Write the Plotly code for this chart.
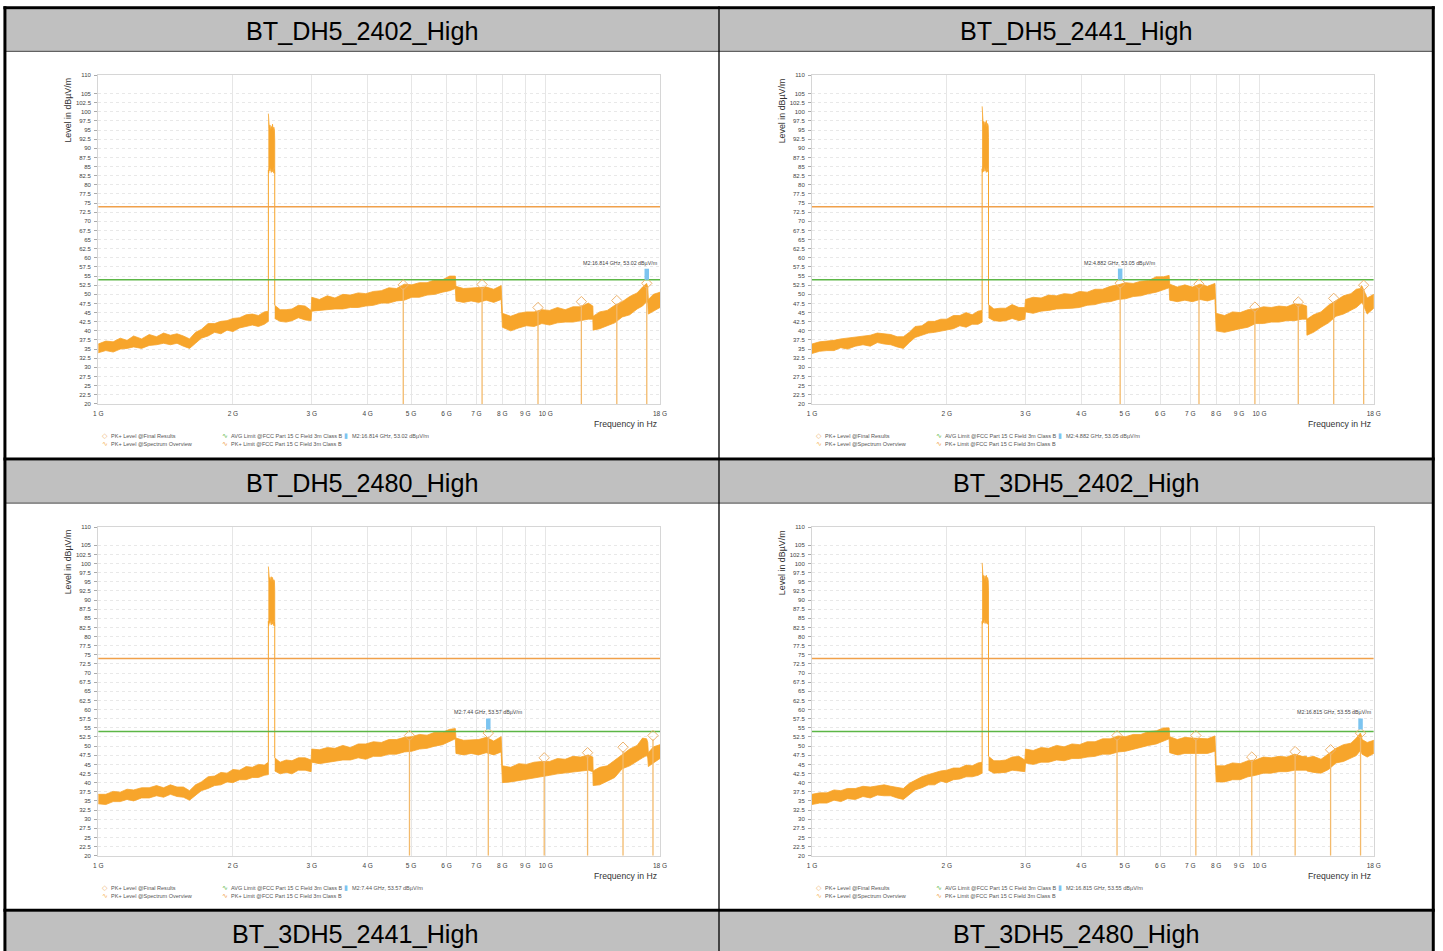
import math
import plotly.graph_objects as go

W, H = 1443, 951

# ---------------- data ----------------
TITLES = ["BT_DH5_2402_High", "BT_DH5_2441_High", "BT_DH5_2480_High",
          "BT_3DH5_2402_High", "BT_3DH5_2441_High", "BT_3DH5_2480_High"]

FREQ_GHZ = [1.00, 1.04, 1.08, 1.12, 1.16, 1.20, 1.25, 1.30, 1.35, 1.40,
            1.45, 1.50, 1.55, 1.60, 1.65, 1.70, 1.76, 1.82, 1.88, 1.94,
            2.00, 2.07, 2.14, 2.21, 2.28, 2.35, 2.40, 2.48, 2.55, 2.63,
            2.71, 2.80, 2.90, 2.99, 3.00, 3.12, 3.25, 3.38, 3.52, 3.66,
            3.81, 3.96, 4.12, 4.29, 4.46, 4.64, 4.83, 5.02, 5.22, 5.43,
            5.65, 5.88, 6.10, 6.28, 6.30, 6.55, 6.81, 7.08, 7.36, 7.65,
            7.95, 8.00, 8.35, 8.70, 9.05, 9.42, 9.80, 10.20, 10.62, 11.05,
            11.50, 11.97, 12.45, 12.74, 12.76, 13.20, 13.72, 14.26, 14.82, 15.40,
            16.00, 16.45, 16.80, 16.90, 16.95, 17.40, 18.00]

P1_LO = [34.0, 34.6, 34.2, 35.0, 35.2, 35.6, 35.2, 36.0, 36.2, 36.6,
         36.2, 36.6, 35.8, 35.2, 36.6, 38.0, 38.6, 39.6, 39.2, 40.2,
         39.8, 40.8, 41.2, 41.6, 41.2, 41.8, 42.6, 43.4, 42.6, 42.4,
         42.8, 43.6, 43.0, 42.8, 45.4, 45.4, 45.8, 46.0, 46.0, 46.4,
         46.4, 46.8, 47.0, 47.6, 47.6, 48.2, 48.4, 49.2, 49.2, 49.8,
         50.0, 50.6, 51.0, 51.6, 48.2, 47.8, 48.2, 47.8, 48.4, 47.8,
         48.6, 41.0, 40.0, 40.8, 41.4, 41.2, 42.0, 41.6, 42.2, 42.4,
         42.4, 42.8, 43.2, 43.2, 40.2, 40.6, 41.4, 42.2, 43.8, 44.4,
         46.0, 46.8, 48.0, 47.6, 44.6, 45.4, 46.4]
P1_HI = [36.4, 37.2, 37.0, 38.0, 37.4, 38.6, 37.8, 39.0, 38.4, 39.4,
         38.8, 39.2, 38.6, 37.8, 39.6, 40.4, 42.0, 42.0, 42.6, 42.8,
         43.4, 43.6, 44.4, 44.6, 44.2, 45.2, 45.4, 47.0, 45.8, 45.8,
         46.0, 47.0, 46.8, 45.6, 49.2, 48.6, 49.6, 49.0, 50.0, 49.8,
         50.4, 50.2, 50.8, 51.0, 51.8, 51.6, 52.8, 52.6, 53.2, 53.2,
         54.0, 54.0, 55.0, 55.0, 52.2, 51.6, 51.8, 51.8, 52.0, 51.4,
         52.4, 44.8, 44.0, 44.8, 45.2, 45.2, 45.8, 45.6, 46.4, 45.8,
         46.6, 46.6, 47.6, 46.8, 44.0, 45.2, 45.6, 47.0, 48.0, 49.4,
         50.4, 52.0, 53.0, 52.0, 48.6, 50.0, 50.6]

P2_LO = [33.8, 34.4, 34.6, 34.6, 35.4, 35.0, 35.8, 36.2, 35.8, 36.8,
         36.4, 36.2, 35.6, 35.2, 36.8, 38.2, 38.8, 39.4, 39.6, 40.0,
         40.2, 40.6, 41.4, 41.0, 41.8, 41.8, 42.4, 43.6, 42.8, 42.6,
         42.8, 43.4, 42.8, 43.2, 45.2, 44.8, 45.4, 45.6, 46.0, 46.2,
         46.2, 46.4, 47.0, 47.2, 47.8, 48.0, 48.6, 48.8, 49.4, 49.6,
         50.2, 50.6, 51.2, 51.8, 48.4, 48.0, 48.4, 48.0, 48.6, 48.2,
         48.8, 40.0, 39.6, 40.2, 40.6, 41.0, 42.0, 42.0, 42.4, 42.4,
         42.8, 42.8, 43.2, 43.2, 38.8, 39.6, 41.0, 42.2, 44.0, 44.6,
         45.6, 46.4, 47.4, 47.6, 47.8, 44.6, 46.2]
P2_HI = [36.4, 37.0, 37.2, 37.4, 37.8, 38.0, 38.4, 38.6, 38.8, 39.4,
         39.2, 39.0, 38.4, 38.4, 39.6, 41.2, 41.4, 42.6, 42.6, 43.2,
         43.2, 44.2, 44.2, 45.0, 44.4, 45.4, 45.6, 47.2, 46.0, 46.2,
         46.2, 47.2, 46.4, 46.4, 48.6, 49.2, 49.0, 49.8, 49.6, 50.2,
         50.0, 50.8, 50.6, 51.4, 51.4, 52.2, 52.6, 53.2, 53.0, 53.6,
         53.8, 54.8, 54.8, 55.2, 52.8, 52.0, 52.6, 52.0, 52.8, 52.2,
         53.0, 44.8, 44.2, 45.2, 45.0, 45.8, 46.0, 46.6, 46.4, 46.8,
         46.6, 47.4, 47.2, 46.8, 43.2, 44.4, 45.2, 47.0, 48.2, 49.6,
         50.2, 51.4, 51.6, 52.4, 52.2, 49.0, 50.0]

P3_LO = [34.2, 34.0, 34.8, 34.8, 35.4, 35.0, 35.8, 35.8, 36.4, 36.0,
         36.8, 36.2, 36.0, 35.2, 36.4, 37.8, 38.4, 39.2, 39.4, 40.2,
         40.0, 40.8, 40.8, 41.4, 41.4, 42.0, 42.2, 43.2, 42.4, 42.8,
         42.4, 43.4, 43.4, 43.0, 45.6, 45.2, 45.6, 45.8, 46.2, 46.2,
         46.8, 46.4, 47.2, 47.2, 47.8, 47.8, 48.4, 48.6, 49.2, 49.4,
         50.0, 50.4, 51.2, 52.0, 48.0, 47.6, 48.0, 47.6, 48.2, 47.6,
         48.4, 40.0, 40.2, 40.6, 40.8, 41.4, 41.6, 42.0, 42.4, 42.8,
         42.8, 43.2, 43.4, 43.0, 39.2, 39.4, 40.4, 41.4, 43.8, 44.6,
         45.8, 46.8, 47.4, 46.8, 44.4, 45.4, 46.6]
P3_HI = [36.8, 36.8, 37.6, 37.4, 38.2, 38.0, 38.6, 38.6, 39.2, 38.6,
         39.4, 38.8, 38.8, 37.8, 39.4, 40.2, 41.6, 41.8, 42.8, 42.6,
         43.6, 43.4, 44.4, 44.2, 45.0, 44.8, 45.6, 46.8, 45.6, 46.2,
         46.0, 46.8, 46.8, 46.2, 49.2, 49.0, 49.6, 49.4, 50.2, 49.6,
         50.6, 50.6, 51.2, 51.0, 51.8, 51.8, 52.4, 52.6, 53.2, 53.0,
         53.8, 53.8, 54.6, 54.8, 52.2, 51.6, 51.8, 51.8, 52.4, 51.4,
         52.6, 44.6, 44.2, 45.2, 45.0, 45.6, 45.8, 45.8, 46.6, 46.4,
         47.2, 47.0, 47.6, 47.0, 43.2, 44.2, 44.6, 46.2, 47.8, 49.2,
         50.2, 52.2, 52.0, 51.0, 48.2, 49.8, 50.4]

P4_LO = [34.0, 34.4, 34.4, 35.2, 34.8, 35.6, 35.4, 36.2, 35.8, 36.6,
         36.4, 36.4, 35.8, 35.4, 36.6, 38.0, 38.6, 39.4, 39.4, 40.4,
         40.0, 40.8, 41.0, 41.6, 41.6, 42.0, 42.6, 43.4, 42.6, 42.6,
         42.8, 43.4, 43.2, 43.0, 45.4, 45.0, 45.6, 45.6, 46.2, 46.0,
         46.6, 46.6, 47.0, 47.2, 47.8, 47.8, 48.4, 48.6, 49.2, 49.6,
         50.2, 50.6, 51.4, 52.0, 48.2, 47.6, 48.0, 48.0, 48.0, 48.0,
         48.6, 40.2, 40.2, 40.8, 40.8, 41.6, 42.0, 42.6, 42.6, 43.0,
         43.0, 43.4, 43.4, 43.4, 43.2, 42.8, 42.6, 43.6, 45.4, 45.8,
         46.8, 47.4, 48.8, 48.4, 47.8, 47.0, 48.0]
P4_HI = [36.8, 37.2, 37.2, 38.0, 37.8, 38.4, 38.4, 39.0, 38.8, 39.2,
         39.4, 39.0, 38.6, 38.4, 39.8, 40.6, 41.6, 42.2, 42.8, 43.2,
         43.4, 44.0, 44.0, 44.8, 44.6, 45.4, 45.6, 47.2, 46.0, 46.0,
         46.2, 47.0, 47.2, 46.2, 49.2, 48.8, 49.6, 49.4, 50.2, 49.8,
         50.6, 50.4, 51.2, 51.2, 52.0, 52.0, 52.8, 52.6, 53.2, 53.2,
         54.0, 54.2, 55.0, 55.0, 52.6, 51.8, 52.4, 52.2, 52.2, 52.0,
         52.8, 44.6, 44.6, 45.4, 45.2, 46.0, 46.2, 47.0, 46.8, 47.2,
         47.0, 47.8, 47.2, 47.2, 46.8, 47.2, 46.4, 48.0, 49.4, 50.4,
         50.8, 52.2, 53.6, 52.8, 51.8, 51.0, 51.6]

SPIKE_F_GHZ = [2.400, 2.404, 2.412, 2.420, 2.428, 2.436, 2.444, 2.452, 2.460, 2.468, 2.476, 2.480]
P1_SPIKE_HI = [99.5, 96.8, 95.6, 96.4, 94.8, 96.0, 95.2, 96.6, 94.6, 95.8, 95.0, 92.0]
P1_SPIKE_LO = [84.0, 83.2, 84.6, 83.8, 85.0, 83.4, 84.4, 83.6, 84.8, 83.2, 84.2, 83.0]
P2_SPIKE_HI = [101.5, 98.0, 96.8, 97.4, 96.0, 97.2, 96.4, 97.6, 95.8, 96.8, 96.2, 93.0]
P2_SPIKE_LO = [84.4, 83.4, 84.8, 83.6, 85.2, 83.8, 84.6, 83.4, 84.8, 83.6, 84.0, 83.2]
P3_SPIKE_HI = [99.2, 96.4, 95.8, 96.2, 95.0, 96.4, 95.0, 96.2, 94.8, 95.6, 95.2, 92.4]
P3_SPIKE_LO = [84.2, 83.0, 84.4, 83.6, 84.8, 83.2, 84.6, 83.4, 84.6, 83.0, 84.0, 82.8]
P4_SPIKE_HI = [100.2, 97.2, 96.0, 96.8, 95.2, 96.6, 95.6, 96.8, 95.0, 96.2, 95.4, 92.6]
P4_SPIKE_LO = [84.2, 83.4, 84.6, 83.8, 85.0, 83.6, 84.4, 83.6, 84.8, 83.4, 84.2, 83.0]

P1_FINAL_F = [4.804, 7.206, 9.608, 12.010, 14.412, 16.814]
P1_FINAL_L = [52.6, 52.7, 46.4, 48.0, 48.3, 53.02]
P2_FINAL_F = [4.882, 7.323, 9.764, 12.205, 14.646, 17.087]
P2_FINAL_L = [53.05, 52.8, 46.5, 47.9, 48.9, 52.5]
P3_FINAL_F = [4.960, 7.440, 9.920, 12.400, 14.880, 17.360]
P3_FINAL_L = [52.9, 53.57, 46.8, 48.2, 49.7, 52.9]
P4_FINAL_F = [4.804, 7.206, 9.608, 12.010, 14.412, 16.815]
P4_FINAL_L = [52.9, 52.9, 47.0, 48.5, 49.0, 53.55]

M2_INDEX = [5, 0, 1, 5]
M2_LABELS = ["M2:16.814 GHz, 53.02 dBµV/m", "M2:4.882 GHz, 53.05 dBµV/m",
             "M2:7.44 GHz, 53.57 dBµV/m", "M2:16.815 GHz, 53.55 dBµV/m"]

PK_LIMIT = 74.0
AVG_LIMIT = 54.0
F_MIN, F_MAX = 1.0, 18.0

Y_TICKS = [20, 22.5, 25, 27.5, 30, 32.5, 35, 37.5, 40, 42.5, 45, 47.5, 50, 52.5,
           55, 57.5, 60, 62.5, 65, 67.5, 70, 72.5, 75, 77.5, 80, 82.5, 85, 87.5,
           90, 92.5, 95, 97.5, 100, 102.5, 105, 110]
X_TICKS = [1, 2, 3, 4, 5, 6, 7, 8, 9, 10, 18]
X_TICK_TEXT = ["1 G", "2 G", "3 G", "4 G", "5 G", "6 G", "7 G", "8 G", "9 G", "10 G", "18 G"]

LEGEND_ITEMS = ["PK+ Level @Final Results", "PK+ Level @Spectrum Overview",
                "AVG Limit @FCC Part 15 C Field 3m Class B",
                "PK+ Limit @FCC Part 15 C Field 3m Class B"]

# ---------------- style ----------------
C_SPEC = "#F7A52B"
C_PK = "#F0A04A"
C_AVG = "#5CB646"
C_FINAL = "#EDB36E"
C_STEM = "#F3BA6C"
C_M2 = "#7CC4F0"
FONT = "Liberation Sans, Arial, sans-serif"

# small correction so that the photographed page lands on the reference pixels
S, CX, CY = 0.992, 721.5, 475.5


def px(x):
    return (CX + (x - CX) / S) / W


def py(y):
    return 1 - (CY + (y - CY) / S) / H


def fs(size):
    return size / S


def note(x, y, text, size, color, xanchor="center", family=FONT, **kw):
    return dict(x=px(x), y=py(y), xref="paper", yref="paper", text=text, showarrow=False,
                xanchor=xanchor, yanchor="middle",
                font=dict(size=fs(size), color=color, family=family), **kw)


panels = [
    dict(lo=P1_LO, hi=P1_HI, shi=P1_SPIKE_HI, slo=P1_SPIKE_LO, ff=P1_FINAL_F, fl=P1_FINAL_L, dx=0, dy=0),
    dict(lo=P2_LO, hi=P2_HI, shi=P2_SPIKE_HI, slo=P2_SPIKE_LO, ff=P2_FINAL_F, fl=P2_FINAL_L, dx=714, dy=0),
    dict(lo=P3_LO, hi=P3_HI, shi=P3_SPIKE_HI, slo=P3_SPIKE_LO, ff=P3_FINAL_F, fl=P3_FINAL_L, dx=0, dy=451),
    dict(lo=P4_LO, hi=P4_HI, shi=P4_SPIKE_HI, slo=P4_SPIKE_LO, ff=P4_FINAL_F, fl=P4_FINAL_L, dx=714, dy=451),
]

PLOT_X0, PLOT_X1, PLOT_Y0, PLOT_Y1 = 99, 661, 76, 404

fig = go.Figure()
annotations = []
shapes = []

split = next(i for i, f in enumerate(FREQ_GHZ) if f > 2.44)

for k, p in enumerate(panels):
    n = "" if k == 0 else str(k + 1)
    xa, ya = "x" + n, "y" + n
    xs, ys = [], []
    for a, b in [(0, split), (split, len(FREQ_GHZ))]:
        fx = FREQ_GHZ[a:b]
        xs += fx + fx[::-1] + [None]
        ys += p["hi"][a:b] + p["lo"][a:b][::-1] + [None]
    fig.add_trace(go.Scatter(x=xs, y=ys, xaxis=xa, yaxis=ya, mode="lines", fill="toself",
                             fillcolor=C_SPEC, line=dict(color=C_SPEC, width=0.8),
                             hoverinfo="skip", showlegend=False))
    fig.add_trace(go.Scatter(x=SPIKE_F_GHZ + SPIKE_F_GHZ[::-1], y=p["shi"] + p["slo"][::-1],
                             xaxis=xa, yaxis=ya, mode="lines", fill="toself",
                             fillcolor=C_SPEC, line=dict(color=C_SPEC, width=0.8),
                             hoverinfo="skip", showlegend=False))
    fig.add_trace(go.Scatter(
        x=[SPIKE_F_GHZ[0], SPIKE_F_GHZ[0], None, SPIKE_F_GHZ[-1], SPIKE_F_GHZ[-1]],
        y=[p["hi"][split - 1], p["slo"][0], None, p["hi"][split], p["slo"][-1]],
        xaxis=xa, yaxis=ya, mode="lines", line=dict(color=C_SPEC, width=1),
        hoverinfo="skip", showlegend=False))
    fig.add_trace(go.Scatter(x=[F_MIN, F_MAX], y=[PK_LIMIT, PK_LIMIT], xaxis=xa, yaxis=ya,
                             mode="lines", line=dict(color=C_PK, width=1.6),
                             hoverinfo="skip", showlegend=False))
    fig.add_trace(go.Scatter(x=[F_MIN, F_MAX], y=[AVG_LIMIT, AVG_LIMIT], xaxis=xa, yaxis=ya,
                             mode="lines", line=dict(color=C_AVG, width=1.6),
                             hoverinfo="skip", showlegend=False))
    sx, sy = [], []
    for f, l in zip(p["ff"], p["fl"]):
        sx += [f, f, None]
        sy += [l - 1.0, 20, None]
    fig.add_trace(go.Scatter(x=sx, y=sy, xaxis=xa, yaxis=ya, mode="lines",
                             line=dict(color=C_STEM, width=1.3), hoverinfo="skip", showlegend=False))
    fig.add_trace(go.Scatter(x=p["ff"], y=p["fl"], xaxis=xa, yaxis=ya, mode="markers",
                             marker=dict(symbol="diamond-open", size=8, color=C_FINAL,
                                         line=dict(width=1, color=C_FINAL)),
                             hoverinfo="skip", showlegend=False))
    mi = M2_INDEX[k]
    mf, ml = p["ff"][mi], p["fl"][mi]
    fig.add_trace(go.Scatter(x=[mf, mf], y=[ml + 1.0, ml + 4.0], xaxis=xa, yaxis=ya, mode="lines",
                             line=dict(color=C_M2, width=4.5), hoverinfo="skip", showlegend=False))
    near_edge = mf > 12
    annotations.append(dict(x=math.log10(F_MAX if near_edge else mf), y=ml + 4.3, xref=xa, yref=ya,
                            text=M2_LABELS[k], showarrow=False,
                            xanchor="right" if near_edge else "center", yanchor="bottom",
                            font=dict(size=fs(5.3), color="#444", family=FONT)))

    dx, dy = p["dx"], p["dy"]
    axis_common = dict(showline=True, linecolor="#d6d6d6", linewidth=1, mirror=True, zeroline=False)
    fig.layout["xaxis" + n] = dict(
        domain=[px(PLOT_X0 + dx), px(PLOT_X1 + dx)], anchor=ya, type="log",
        range=[math.log10(F_MIN), math.log10(F_MAX)], tickvals=X_TICKS, ticktext=X_TICK_TEXT,
        showgrid=True, gridcolor="#e6e6e6", gridwidth=1, ticks="", ticklabelstandoff=3,
        tickfont=dict(size=fs(6.5), color="#444", family=FONT), **axis_common)
    fig.layout["yaxis" + n] = dict(
        domain=[py(PLOT_Y1 + dy), py(PLOT_Y0 + dy)], anchor=xa, range=[20, 110],
        tickvals=Y_TICKS, ticktext=[f"{v:g}" for v in Y_TICKS],
        showgrid=True, gridcolor="#e8e8e8", griddash="dot", gridwidth=1,
        ticks="outside", ticklen=3, tickcolor="#aaaaaa", ticklabelstandoff=2,
        tickfont=dict(size=fs(6.0), color="#444", family=FONT), **axis_common)

    annotations.append(note(69 + dx, 111 + dy, "Level in dBµV/m", 8.8, "#333", textangle=-90))
    annotations.append(note(660 + dx, 424 + dy, "Frequency in Hz", 8.6, "#333", xanchor="right"))
    r1, r2 = 436 + dy, 444 + dy
    icons = [("◇", 106, r1, C_FINAL), ("∿", 106, r2, "#F5B45A"),
             ("∿", 226, r1, C_AVG), ("∿", 226, r2, C_PK), ("▮", 347, r1, C_M2)]
    for t, x0, y0, c in icons:
        annotations.append(note(x0 + dx, y0, t, 7, c, family="DejaVu Sans"))
    texts = [(LEGEND_ITEMS[0], 110, r1), (LEGEND_ITEMS[1], 110, r2),
             (LEGEND_ITEMS[2], 230, r1), (LEGEND_ITEMS[3], 230, r2), (M2_LABELS[k], 351, r1)]
    for t, x0, y0 in texts:
        annotations.append(note(x0 + dx, y0, t, 5.5, "#555", xanchor="left"))

# ---------------- table frame ----------------
T_L, T_R, T_MID = 5.7, 1434.5, 720
HEADERS = [(10, 51.5), (460.5, 502.5), (911, 955)]
for (y0, y1) in HEADERS:
    shapes.append(dict(type="rect", xref="paper", yref="paper", x0=px(T_L), x1=px(T_R),
                       y0=py(y1), y1=py(y0), fillcolor="#C0C0C0", line=dict(width=0), layer="below"))
for yl in [52, 503]:
    shapes.append(dict(type="line", xref="paper", yref="paper", x0=px(T_L), x1=px(T_R),
                       y0=py(yl), y1=py(yl), line=dict(color="#333", width=1)))
for yl in [8.5, 459, 909.5]:
    shapes.append(dict(type="line", xref="paper", yref="paper", x0=px(T_L - 1.5), x1=px(T_R + 1.5),
                       y0=py(yl), y1=py(yl), line=dict(color="#000", width=3)))
for xl, wdt in [(T_L, 3), (T_R, 3), (T_MID, 1.3)]:
    shapes.append(dict(type="line", xref="paper", yref="paper", x0=px(xl), x1=px(xl),
                       y0=py(7), y1=py(955), line=dict(color="#000", width=wdt)))

centers = [(363, 32), (1077, 32), (363, 483), (1077, 483), (356, 933), (1077, 933)]
for t, (cx, cy) in zip(TITLES, centers):
    annotations.append(note(cx, cy, t, 25, "#000"))

fig.update_layout(width=W, height=H, autosize=False, margin=dict(l=0, r=0, t=0, b=0),
                  paper_bgcolor="white", plot_bgcolor="white", showlegend=False,
                  annotations=annotations, shapes=shapes)

POST = ("document.documentElement.style.margin='0';document.body.style.margin='0';"
        "document.body.style.overflow='hidden';"
        "var d=document.getElementById('{plot_id}');d.style.position='fixed';d.style.left='0px';d.style.top='0px';")

fig.write_html("out.html", include_plotlyjs=True, config={"displayModeBar": False}, post_script=POST)
